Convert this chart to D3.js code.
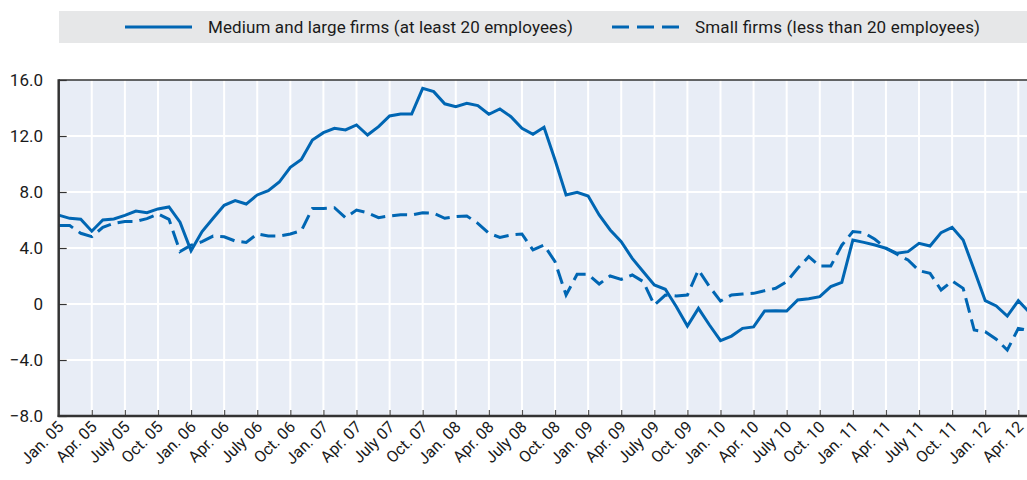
<!DOCTYPE html>
<html><head><meta charset="utf-8">
<script src="https://cdn.jsdelivr.net/npm/d3@7"></script>
<style>body{margin:0;background:#fff}svg{display:block}</style>
</head><body>
<svg id="c" width="1027" height="480"></svg>
<script>
const quarterNames = ["Jan.", "Apr.", "July", "Oct."];
const years = ["05","06","07","08","09","10","11","12"];
const tickLabels = [];
years.forEach(y => quarterNames.forEach(q => tickLabels.push(q + " " + y)));
const xTickLabels = tickLabels.slice(0, 30); // Jan. 05 .. Apr. 12
const yTicks = [-8, -4, 0, 4, 8, 12, 16];
const seriesNames = ["Medium and large firms (at least 20 employees)", "Small firms (less than 20 employees)"];
const mediumLarge = [6.35,6.12,6.05,5.2,6.0,6.07,6.33,6.64,6.52,6.79,6.93,5.85,3.8,5.17,6.12,7.05,7.38,7.14,7.79,8.1,8.71,9.76,10.33,11.71,12.24,12.55,12.43,12.79,12.07,12.67,13.43,13.57,13.57,15.4,15.17,14.3,14.1,14.33,14.17,13.55,13.93,13.38,12.55,12.12,12.62,10.29,7.79,7.98,7.71,6.36,5.29,4.45,3.26,2.3,1.36,1.05,-0.19,-1.57,-0.31,-1.5,-2.62,-2.29,-1.74,-1.64,-0.5,-0.48,-0.5,0.29,0.38,0.52,1.24,1.55,4.57,4.4,4.21,3.98,3.62,3.74,4.33,4.14,5.1,5.48,4.57,2.43,0.24,-0.14,-0.86,0.24,-0.6];
const small = [5.6,5.6,5.05,4.81,5.48,5.76,5.9,5.9,6.1,6.43,6.05,3.74,4.2,4.45,4.85,4.8,4.5,4.4,5.0,4.86,4.86,5.0,5.24,6.83,6.83,6.88,6.17,6.71,6.52,6.17,6.29,6.38,6.36,6.52,6.48,6.12,6.24,6.29,5.76,5.05,4.76,4.93,5.0,3.86,4.21,3.02,0.64,2.12,2.12,1.43,2.0,1.76,2.07,1.6,-0.07,0.64,0.57,0.64,2.43,1.24,0.21,0.64,0.71,0.76,0.95,1.12,1.6,2.55,3.38,2.71,2.71,4.2,5.17,5.1,4.62,3.98,3.55,3.14,2.38,2.19,1.0,1.64,1.12,-1.86,-1.98,-2.52,-3.29,-1.74,-1.9];

const FONT = "Roboto,'Liberation Sans',sans-serif";
const BLUE = "#0066b3";
const DASH = "15,7";
const svg = d3.select("#c");
const pLeft = 58.7, pTop = 80, pBottom = 416, pRight = 1040;
const x = d3.scaleLinear().domain([0, 87]).range([pLeft, 1018.3]);
const y = d3.scaleLinear().domain([-8, 16]).range([pBottom, pTop]);

// legend
svg.append("rect").attr("x", 59).attr("y", 11).attr("width", 968).attr("height", 32).attr("fill", "#e6e7e8");
const lg = svg.append("g").attr("font-family", FONT).attr("font-size", 17).attr("fill", "#1a1a1a");
lg.append("line").attr("x1", 125).attr("x2", 192).attr("y1", 27).attr("y2", 27).attr("stroke", BLUE).attr("stroke-width", 3);
lg.append("text").attr("x", 208).attr("y", 33).attr("textLength", 365).attr("lengthAdjust", "spacing").text(seriesNames[0]);
lg.append("line").attr("x1", 612).attr("x2", 679).attr("y1", 27).attr("y2", 27).attr("stroke", BLUE).attr("stroke-width", 3).attr("stroke-dasharray", "17,8");
lg.append("text").attr("x", 695).attr("y", 33).attr("textLength", 285).attr("lengthAdjust", "spacing").text(seriesNames[1]);

// plot background
svg.append("rect").attr("x", pLeft).attr("y", pTop).attr("width", pRight - pLeft).attr("height", pBottom - pTop).attr("fill", "#e8edf6");

// grid
svg.append("g").selectAll("line").data(yTicks.filter(v => v > -8 && v < 16)).join("line")
  .attr("x1", pLeft).attr("x2", pRight).attr("y1", d => y(d)).attr("y2", d => y(d))
  .attr("stroke", "#fff").attr("stroke-width", 2);
svg.append("g").selectAll("line").data(xTickLabels.map((d, i) => i * 3).filter(m => m > 0)).join("line")
  .attr("x1", d => x(d)).attr("x2", d => x(d)).attr("y1", pTop).attr("y2", pBottom)
  .attr("stroke", "#fff").attr("stroke-width", 2);

// lines
const line = d3.line().x((d, i) => x(i)).y(d => y(d));
svg.append("path").datum(small).attr("d", line).attr("fill", "none").attr("stroke", BLUE)
  .attr("stroke-width", 3).attr("stroke-dasharray", DASH).attr("stroke-linejoin", "miter");
svg.append("path").datum(mediumLarge).attr("d", line).attr("fill", "none").attr("stroke", BLUE)
  .attr("stroke-width", 3).attr("stroke-linejoin", "miter");

// top border
svg.append("line").attr("x1", pLeft).attr("x2", pRight).attr("y1", pTop).attr("y2", pTop).attr("stroke", "#333").attr("stroke-width", 1.5);

// y axis
const yAxis = d3.axisRight(y).tickValues(yTicks).tickSize(8).tickFormat("");
const ya = svg.append("g").attr("transform", `translate(${pLeft},0)`).call(yAxis);
ya.select(".domain").remove();
ya.selectAll(".tick line").attr("stroke", "#333").attr("stroke-width", 1.2);
svg.append("g").selectAll("text").data(yTicks).join("text")
  .attr("x", 43).attr("y", d => y(d) + 6).attr("text-anchor", "end")
  .attr("font-family", FONT).attr("font-size", 17).attr("fill", "#1a1a1a")
  .text(d => d === 0 ? "0" : d3.format(".1f")(d));
svg.append("line").attr("x1", pLeft).attr("x2", pLeft).attr("y1", pTop - 0.75).attr("y2", pBottom + 1).attr("stroke", "#333").attr("stroke-width", 2.5);

// x axis
const xAxis = d3.axisTop(x).tickValues(xTickLabels.map((d, i) => i * 3)).tickSize(6).tickFormat("");
const xa = svg.append("g").attr("transform", `translate(0,${pBottom})`).call(xAxis);
xa.select(".domain").remove();
xa.selectAll(".tick line").attr("stroke", "#555").attr("stroke-width", 1.2);
svg.append("line").attr("x1", pLeft - 1).attr("x2", pRight).attr("y1", pBottom).attr("y2", pBottom).attr("stroke", "#333").attr("stroke-width", 2.5);
svg.append("g").selectAll("text").data(xTickLabels).join("text")
  .attr("transform", (d, i) => `translate(${x(i * 3) + 6},${pBottom + 12}) rotate(-45)`)
  .attr("text-anchor", "end")
  .attr("font-family", FONT).attr("font-size", 16).attr("fill", "#1a1a1a")
  .text(d => d);
</script>
</body></html>
